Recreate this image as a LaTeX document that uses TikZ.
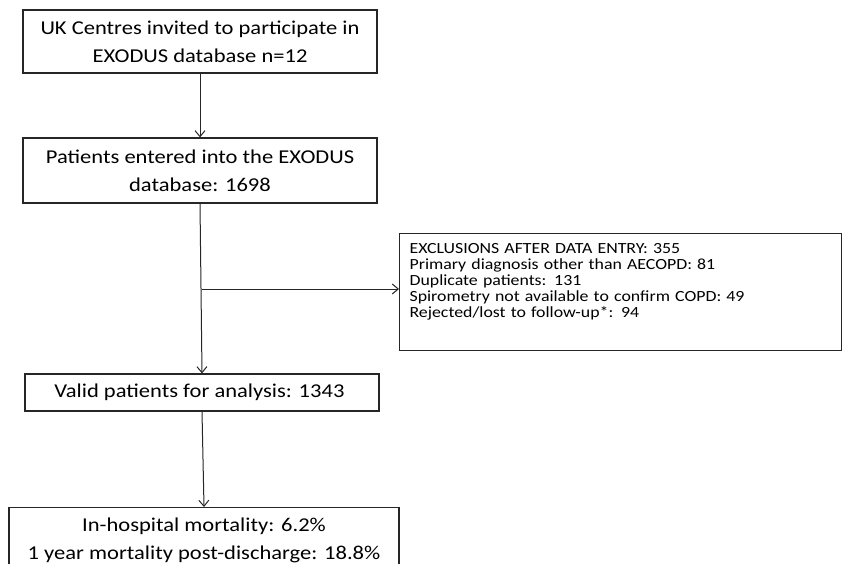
\documentclass[tikz,border=0pt]{standalone}
\usepackage{fontspec}
\setmainfont{Carlito}[FakeStretch=1.15]
\usetikzlibrary{arrows.meta,positioning}
\tikzset{
	>={Straight Barb[length=6pt,width=10pt]},
}

\begin{document}
\begin{tikzpicture}
	[x=1pt, y=-1pt, line width=1pt,
		% STYLES
		% The stage style is used for the boxes of the main flow
		stage/.style={rectangle, draw=black!85, line width=1.2pt, inner sep=0pt,
				minimum width=354pt, align=center, font=\fontsize{19.6}{28}\selectfont},
		% The exclusion style is used for the list of excluded patients
		exclusion/.style={rectangle, draw=black!85, line width=1.2pt, inner
				xsep=10pt, inner ysep=10pt, text width=422pt, text depth=87pt,
				align=left, font=\fontsize{15.5}{16}\selectfont}]

	\clip (0,0) rectangle (845,564);

	% Draw stages
	\node [stage, minimum height=63pt] (centres) at (200,41.5) {
		UK Centres invited to participate in\\
		EXODUS database n=12
	};
	\node [stage, minimum height=65pt] (entered) at (200,170.5) {
		Patients entered into the EXODUS\\
		database: 1698
	};
	\node [stage, minimum height=37pt] (valid) at (202,392.5) {
		Valid patients for analysis: 1343
	};
	\node [stage, minimum width=390pt, minimum height=66pt, anchor=north]
	(mortality) at (204,507) {
		In-hospital mortality: 6.2\%\\
		1 year mortality post-discharge: 18.8\%
	};

	% Draw exclusions
	\node [exclusion, anchor=north west] (exclusions) at (399,233) {
		EXCLUSIONS AFTER DATA ENTRY: 355\\
		Primary diagnosis other than AECOPD: 81\\
		Duplicate patients: 131\\
		Spirometry not available to confirm COPD: 49\\
		Rejected/lost to follow-up*: 94
	};

	\coordinate (split) at (201.5,289);

	% Draw connectors
	\draw[->, draw=black!85] (centres.south) -- (entered.north);
	\draw[->, draw=black!85] (entered.south) -- (valid.north);
	\draw[->, draw=black!85] (split) -- (split -| exclusions.west);
	\draw[->, draw=black!85] (valid.south) -- (mortality.north);
\end{tikzpicture}
\end{document}
